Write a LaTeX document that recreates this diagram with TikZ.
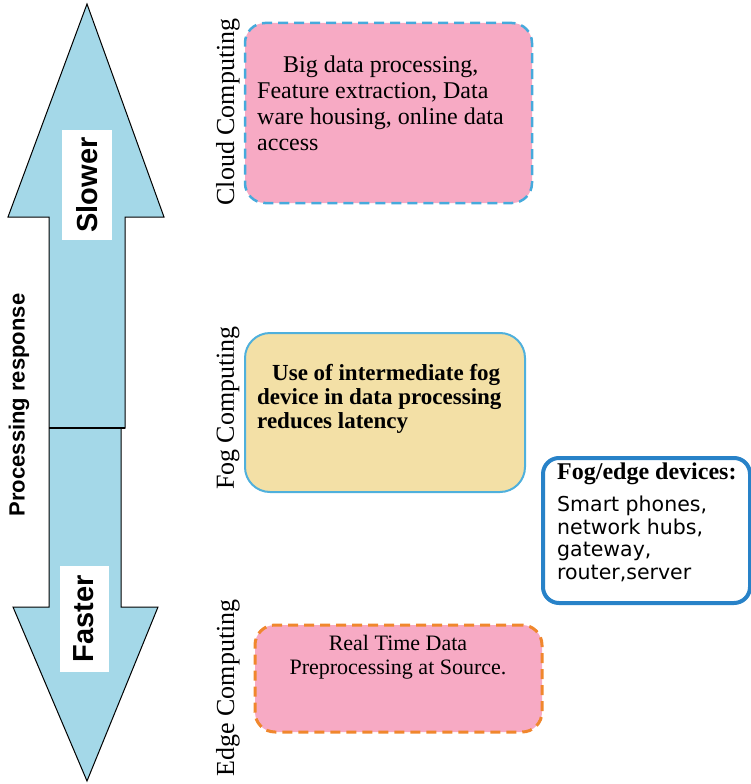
\documentclass[tikz,border=0pt]{standalone}
\usepackage{fontspec}
\setmainfont{Liberation Serif}
\setsansfont{Liberation Sans}
\newfontfamily\dejavu{DejaVu Sans}
\usetikzlibrary{positioning}
\definecolor{arrowblue}{RGB}{164,216,232}
\definecolor{boxpink}{RGB}{247,170,196}
\definecolor{boxsand}{RGB}{243,224,166}
\definecolor{cloudline}{RGB}{70,170,220}
\definecolor{fogline}{RGB}{79,176,220}
\definecolor{edgeline}{RGB}{240,135,45}
\definecolor{devline}{RGB}{40,130,200}
\tikzset{
  layerlabel/.style={rotate=90,font=\fontsize{26}{30}\selectfont},
  speedlabel/.style={rotate=90,fill=white,inner sep=0pt,font=\sffamily\bfseries\fontsize{29}{30}\selectfont},
  cloudbox/.style={draw=cloudline,fill=boxpink,line width=2.5pt,dash pattern=on 10pt off 6pt,rounded corners=20pt},
  fogbox/.style={draw=fogline,fill=boxsand,line width=2pt,rounded corners=25pt},
  edgebox/.style={draw=edgeline,fill=boxpink,line width=3pt,dash pattern=on 10pt off 6pt,rounded corners=20pt},
  devbox/.style={draw=devline,line width=4pt,rounded corners=16pt},
  boxtext/.style={align=left,inner sep=0pt,font=\fontsize{24}{26}\selectfont}
}
\begin{document}
\begin{tikzpicture}[x=1pt,y=-1pt]
        \useasboundingbox (0,0) rectangle (751,784);
        %freccia doppia
        \draw[fill=arrowblue,line width=1pt] (87,4) -- (164,217) -- (125,217) -- (125,428) -- (121,428) -- (121,607) -- (158,607) -- (87,781) -- (13,607) -- (49,607) -- (49,217) -- (8,217) -- cycle;
        \draw[line width=1.5pt] (49,428) -- (125,428);
        %etichette freccia
        \node[speedlabel,minimum width=110pt,minimum height=50pt] (slow) at (87,185) {Slower};
        \node[speedlabel,minimum width=106pt,minimum height=49pt] (fast) at (84,619) {Faster};
        \node[rotate=90,font=\sffamily\bfseries\fontsize{22}{24}\selectfont] (resp) at (19,405) {Processing response};
        %cloud
        \node[cloudbox,minimum width=287pt,minimum height=180pt] (cloud) at (388.5,113) {};
        \node[boxtext,anchor=north west] (cloudtxt) at (257,56) {\hspace*{26pt}Big data processing,\\Feature extraction, Data\\ware housing, online data\\access};
        \node[layerlabel] (cloudlbl) at (228,112) {Cloud Computing};
        %fog
        \node[fogbox,minimum width=280pt,minimum height=159pt] (fog) at (385,412.5) {};
        \node[boxtext,anchor=north west,font=\bfseries\fontsize{23}{24}\selectfont] (fogtxt) at (257,364) {\hspace*{15pt}Use of intermediate fog\\device in data processing\\reduces latency};
        \node[layerlabel] (foglbl) at (228,408) {Fog Computing};
        %dispositivi
        \node[devbox,minimum width=207pt,minimum height=145pt] (dev) at (646.5,530.5) {};
        \node[align=left,inner sep=0pt,anchor=north west,font=\dejavu\fontsize{20.5}{22.7}\selectfont] (devtxt) at (557,463) {\textbf{\rmfamily\fontsize{24}{26}\selectfont Fog/edge devices:}\\[9pt]Smart phones,\\network hubs,\\gateway,\\router,server};
        %edge
        \node[edgebox,minimum width=287pt,minimum height=107pt] (edge) at (398.5,678.5) {};
        \node[align=center,inner sep=0pt,font=\fontsize{22}{24}\selectfont] (edgetxt) at (398,657) {Real Time Data\\Preprocessing at Source.};
        \node[layerlabel] (edgelbl) at (228,688) {Edge Computing};
\end{tikzpicture}
\end{document}
